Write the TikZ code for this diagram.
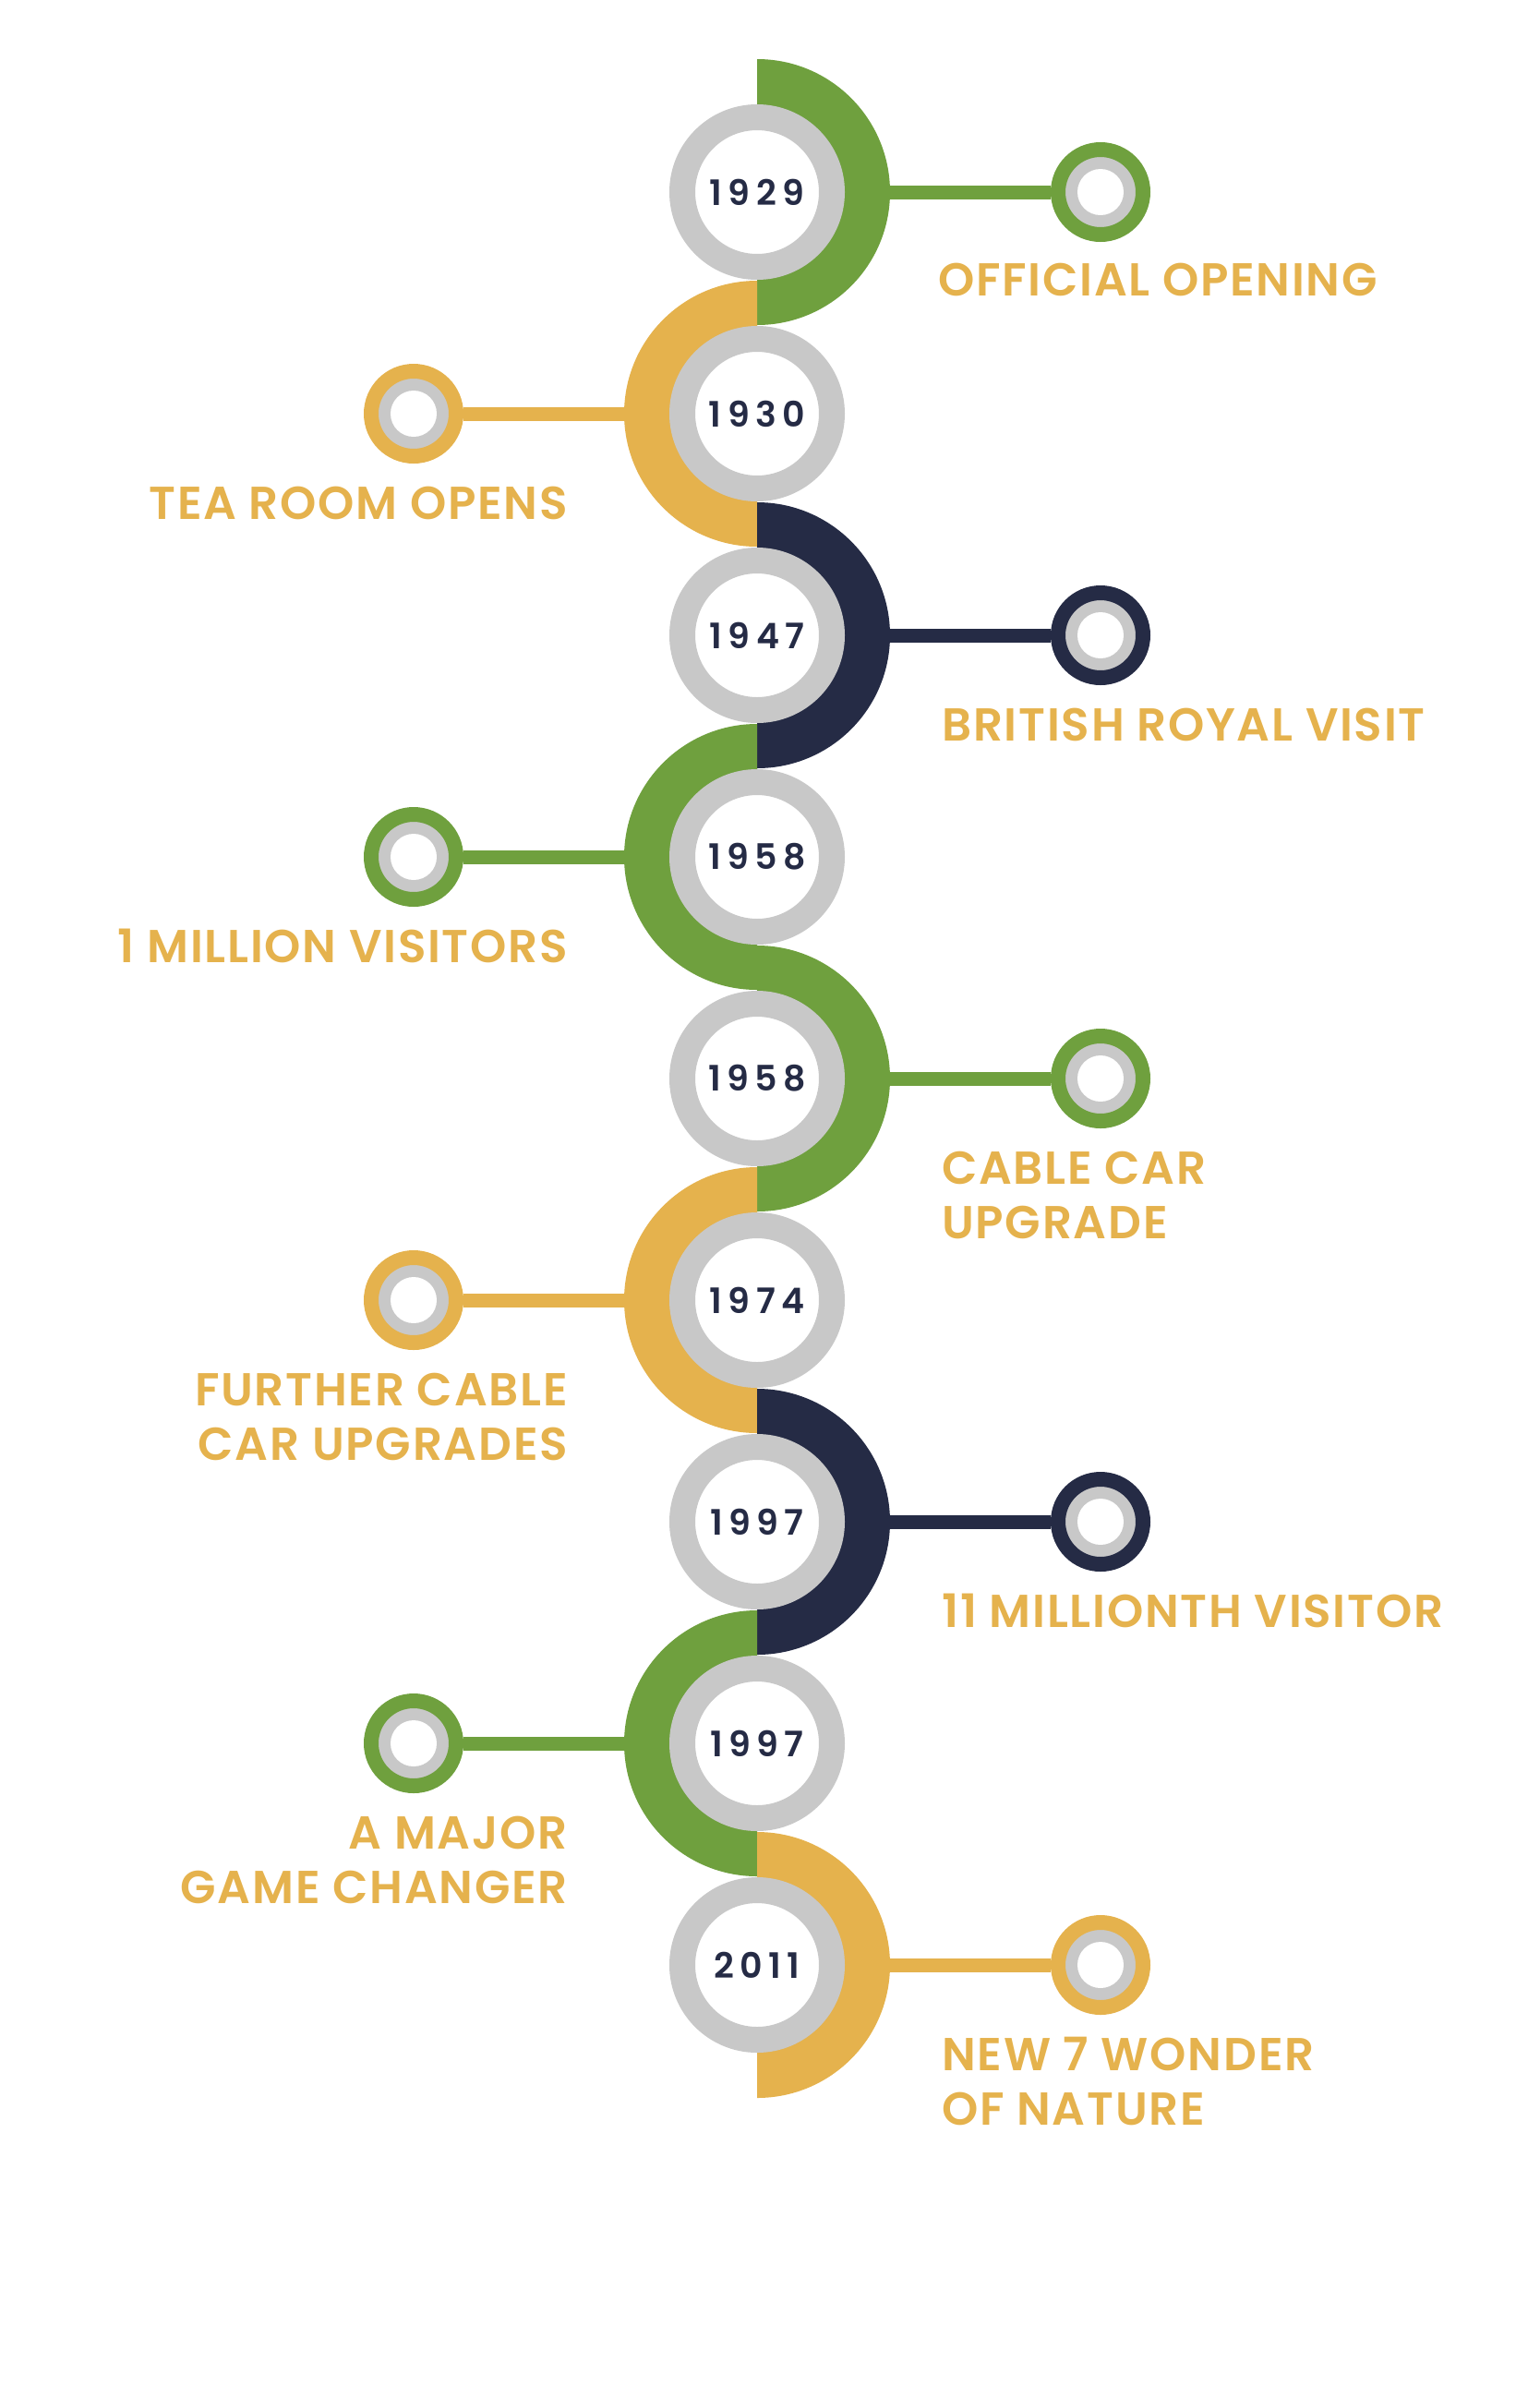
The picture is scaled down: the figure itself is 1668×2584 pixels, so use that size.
\documentclass[tikz,border=0pt]{standalone}
\usepackage{fontspec}
\setmainfont{Poppins}
\newfontfamily\labfont{Poppins SemiBold}[LetterSpace=3.5]
\newfontfamily\yearfont{Poppins SemiBold}[LetterSpace=17]
\usepackage{tikz}
\usetikzlibrary{backgrounds}
\definecolor{Leaf}{HTML}{6FA03E}
\definecolor{Sand}{HTML}{E5B24D}
\definecolor{Ink}{HTML}{252B45}
\definecolor{Ash}{HTML}{C8C8C8}

\begin{document}
\begin{tikzpicture}[x=1pt,y=-1pt,
    yr/.style={circle,draw=Ash,line width=28pt,fill=white,minimum size=162pt,inner sep=0pt,text=Ink,font=\fontsize{38}{40}\yearfont},
    knob/.style={circle,draw=#1,line width=16pt,fill=Ash,minimum size=92pt,inner sep=0pt,
      path picture={\fill[white] (path picture bounding box.center) circle[radius=25pt];}},
    lbl/.style={inner sep=0pt,text=Sand,font=\fontsize{50}{59}\labfont},
    ln/.style={line width=15pt,draw=#1}]
    \useasboundingbox (0,0) rectangle (1668,2584);
    % years down the middle
    \node[yr] (y1) at (820,208) {1929};
    \node[yr] (y2) at (820,448) {1930};
    \node[yr] (y3) at (820,688) {1947};
    \node[yr] (y4) at (820,928) {1958};
    \node[yr] (y5) at (820,1168) {1958};
    \node[yr] (y6) at (820,1408) {1974};
    \node[yr] (y7) at (820,1648) {1997};
    \node[yr] (y8) at (820,1888) {1997};
    \node[yr] (y9) at (820,2128) {2011};
    % end points
    \node[knob=Leaf] (k1) at (1192,208) {};
    \node[knob=Sand] (k2) at (448,448) {};
    \node[knob=Ink] (k3) at (1192,688) {};
    \node[knob=Leaf] (k4) at (448,928) {};
    \node[knob=Leaf] (k5) at (1192,1168) {};
    \node[knob=Sand] (k6) at (448,1408) {};
    \node[knob=Ink] (k7) at (1192,1648) {};
    \node[knob=Leaf] (k8) at (448,1888) {};
    \node[knob=Sand] (k9) at (1192,2128) {};
    % labels (base = last line)
    \node[lbl,anchor=base west] (t1) at (1016,320) {OFFICIAL OPENING};
    \node[lbl,anchor=base east] (t2) at (615,562) {TEA ROOM OPENS};
    \node[lbl,anchor=base west] (t3) at (1020,802) {BRITISH ROYAL VISIT};
    \node[lbl,anchor=base east] (t4) at (615,1042) {1 MILLION VISITORS};
    \node[lbl,anchor=base west,align=left] (t5) at (1020,1341) {CABLE CAR\\UPGRADE};
    \node[lbl,anchor=base east,align=right] (t6) at (615,1581) {FURTHER CABLE\\CAR UPGRADES};
    \node[lbl,anchor=base west] (t7) at (1020,1762) {11 MILLIONTH VISITOR};
    \node[lbl,anchor=base east,align=right] (t8) at (615,2061) {A MAJOR\\GAME CHANGER};
    \node[lbl,anchor=base west,align=left] (t9) at (1020,2301) {NEW 7 WONDER\\OF NATURE};
    \begin{scope}[on background layer]
      \fill[Leaf] (y1.center) ++(0,-144) arc[start angle=-90,end angle=90,radius=144] -- cycle;
      \fill[Sand] (y2.center) ++(0,-144) arc[start angle=-90,end angle=-270,radius=144] -- cycle;
      \fill[Ink] (y3.center) ++(0,-144) arc[start angle=-90,end angle=90,radius=144] -- cycle;
      \fill[Leaf] (y4.center) ++(0,-144) arc[start angle=-90,end angle=-270,radius=144] -- cycle;
      \fill[Leaf] (y5.center) ++(0,-144) arc[start angle=-90,end angle=90,radius=144] -- cycle;
      \fill[Sand] (y6.center) ++(0,-144) arc[start angle=-90,end angle=-270,radius=144] -- cycle;
      \fill[Ink] (y7.center) ++(0,-144) arc[start angle=-90,end angle=90,radius=144] -- cycle;
      \fill[Leaf] (y8.center) ++(0,-144) arc[start angle=-90,end angle=-270,radius=144] -- cycle;
      \fill[Sand] (y9.center) ++(0,-144) arc[start angle=-90,end angle=90,radius=144] -- cycle;
      \draw[ln=Leaf] (y1) -- (k1); \draw[ln=Sand] (y2) -- (k2); \draw[ln=Ink] (y3) -- (k3);
      \draw[ln=Leaf] (y4) -- (k4); \draw[ln=Leaf] (y5) -- (k5); \draw[ln=Sand] (y6) -- (k6);
      \draw[ln=Ink] (y7) -- (k7); \draw[ln=Leaf] (y8) -- (k8); \draw[ln=Sand] (y9) -- (k9);
    \end{scope}
\end{tikzpicture}
\end{document}
